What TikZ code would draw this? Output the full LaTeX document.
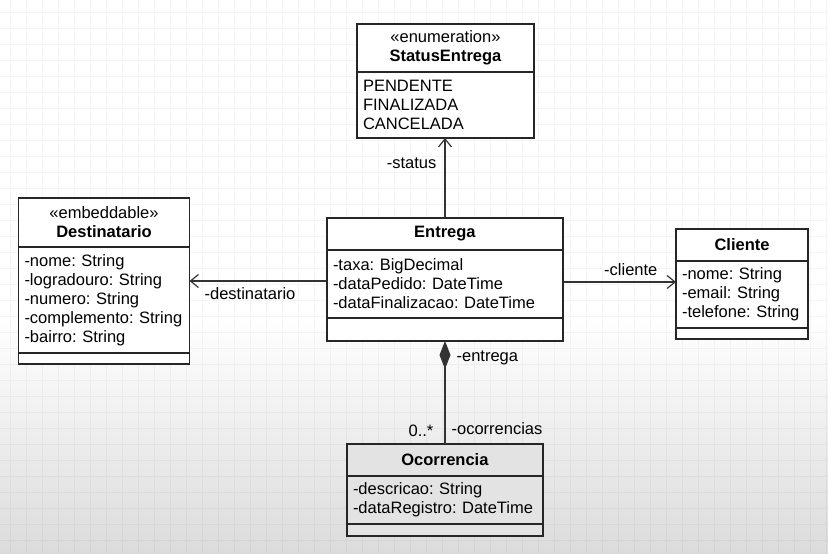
\documentclass[tikz,border=0pt]{standalone}
\usepackage{fontspec}
\setmainfont{Liberation Sans}
\usetikzlibrary{
    arrows.meta,
    positioning,
    calc
}

\newcommand{\umlfont}{\fontsize{16.5}{19}\selectfont\frenchspacing}

\tikzset{
    box/.style={draw=black!85, line width=1.3pt, fill=white, outer sep=0pt,
        inner xsep=6pt, inner ysep=0pt, align=left, font=\umlfont},
    head/.style={box, align=center},
    assoc/.style={draw=black!80, line width=1.2pt, -{Straight Barb[length=8pt,width=13pt]}},
    comp/.style={draw=black!80, line width=1.2pt, {Diamond[length=28pt,width=11pt]}-},
    role/.style={font=\umlfont, inner sep=2pt}
}

\begin{document}
\begin{tikzpicture}[x=1pt, y=-1pt]
    \useasboundingbox (0,0) rectangle (828,554);
    % background with fade and grid
    \begin{scope}
        \clip (0,0) rectangle (828,554);
        \fill[white] (0,0) rectangle (828,320);
        \shade[top color=white, bottom color=black!14] (0,320) rectangle (828,554);
        \draw[black, opacity=0.04, line width=0.8pt, xshift=10.7pt, yshift=-12.7pt]
            (-16,-16) grid[step=16pt] (828,560);
    \end{scope}

    % StatusEntrega
    \node[head, minimum width=177pt, text width=165pt, minimum height=48pt, anchor=north]
        (status) at (445.5,24) {\guillemotleft enumeration\guillemotright\\\textbf{StatusEntrega}};
    \node[box, minimum width=177pt, text width=165pt, minimum height=66pt, below=0pt of status]
        (status-attr) {PENDENTE\\FINALIZADA\\CANCELADA};

    % Destinatario
    \node[head, minimum width=171pt, text width=159pt, minimum height=49pt, anchor=north]
        (dest) at (104,198) {\guillemotleft embeddable\guillemotright\\\textbf{Destinatario}};
    \node[box, minimum width=171pt, text width=159pt, minimum height=106pt, below=0pt of dest]
        (dest-attr) {-nome: String\\-logradouro: String\\-numero: String\\-complemento: String\\-bairro: String};
    \node[box, minimum width=171pt, text width=159pt, minimum height=11pt, below=0pt of dest-attr]
        (dest-ops) {};

    % Entrega
    \node[head, minimum width=236pt, text width=224pt, minimum height=32pt, anchor=north]
        (entrega) at (445,218) {\textbf{Entrega}};
    \node[box, minimum width=236pt, text width=224pt, minimum height=68pt, below=0pt of entrega]
        (entrega-attr) {-taxa: BigDecimal\\-dataPedido: DateTime\\-dataFinalizacao: DateTime};
    \node[box, minimum width=236pt, text width=224pt, minimum height=23pt, below=0pt of entrega-attr]
        (entrega-ops) {};

    % Cliente
    \node[head, minimum width=132pt, text width=120pt, minimum height=32pt, anchor=north]
        (cliente) at (742,229) {\textbf{Cliente}};
    \node[box, minimum width=132pt, text width=120pt, minimum height=67pt, below=0pt of cliente]
        (cliente-attr) {-nome: String\\-email: String\\-telefone: String};
    \node[box, minimum width=132pt, text width=120pt, minimum height=11pt, below=0pt of cliente-attr]
        (cliente-ops) {};

    % Ocorrencia
    \node[head, fill=black!11, minimum width=196pt, text width=184pt, minimum height=32pt, anchor=north]
        (ocorr) at (445,444) {\textbf{Ocorrencia}};
    \node[box, fill=black!11, minimum width=196pt, text width=184pt, minimum height=48pt, below=0pt of ocorr]
        (ocorr-attr) {-descricao: String\\-dataRegistro: DateTime};
    \node[box, fill=black!11, minimum width=196pt, text width=184pt, minimum height=12pt, below=0pt of ocorr-attr]
        (ocorr-ops) {};

    % associations
    \draw[assoc] (entrega.north) -- (entrega.north |- status-attr.south)
        node[role, pos=0.69, left=6pt] {-status};
    \draw[assoc] ([yshift=3pt]entrega-attr.west) -- ([yshift=3pt]entrega-attr.west -| dest-attr.east)
        node[role, pos=0.56, below=4pt] {-destinatario};
    \draw[assoc] ([yshift=2pt]entrega-attr.east) -- ([yshift=2pt]entrega-attr.east -| cliente-attr.west)
        node[role, pos=0.6, above=4pt] {-cliente};

    % composition
    \draw[comp] (entrega-ops.south) -- (ocorr.north)
        node[role, pos=0.165, right=9pt] {-entrega}
        node[role, pos=0.85, right=4pt] {-ocorrencias}
        node[role, pos=0.87, left=9pt] {0..*};
\end{tikzpicture}
\end{document}
